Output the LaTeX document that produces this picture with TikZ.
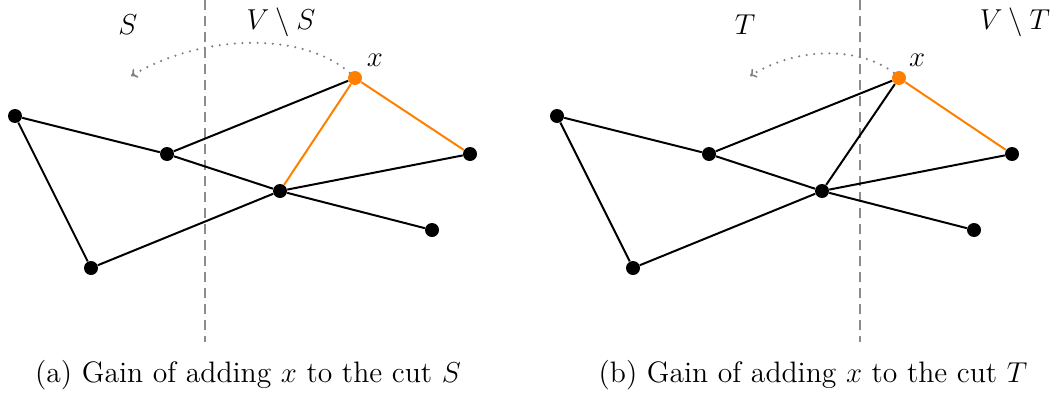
\documentclass[tikz,border=0pt]{standalone}
\usetikzlibrary{arrows.meta}
\definecolor{xorange}{RGB}{255,128,0}
\begin{document}
\begin{tikzpicture}[x=0.5pt,y=-0.5pt,
  vtx/.style={circle,fill=black,inner sep=0pt,minimum size=7pt},
  xvtx/.style={circle,fill=xorange,inner sep=0pt,minimum size=7pt},
  edge/.style={line width=1pt,black},
  oedge/.style={line width=1pt,xorange},
  cutline/.style={line width=0.8pt,gray!90,dash pattern=on 5pt off 3pt},
  move/.style={gray,line width=1.2pt,line cap=round,dash pattern=on 0pt off 3.8pt,-{To[length=3pt,width=5pt,line width=0.8pt]}},
  lbl/.style={font=\fontsize{15.5}{18}\selectfont},
  captxt/.style={font=\fontsize{14.8}{18}\selectfont}]
\useasboundingbox (0,0) rectangle (1059,396);
% ---------- panel (a)
\coordinate (cutAtop) at (205,0);
\coordinate (cutAbot) at (205,342);
\draw[cutline] (cutAtop) -- (cutAbot);
\node[lbl] (aS) at (128,25) {$S$};
\node[lbl] (aVS) at (281,22) {$V\setminus S$};
\node[vtx] (aA) at (15,116) {};
\node[vtx] (aB) at (167,154) {};
\node[vtx] (aC) at (91,268) {};
\node[vtx] (aD) at (280,191) {};
\node[xvtx] (aX) at (355,78) {};
\node[vtx] (aE) at (470,154) {};
\node[vtx] (aF) at (432,230) {};
\node[lbl] (aXl) at (375,60) {$x$};
\draw[edge] (aA) -- (aB);
\draw[edge] (aA) -- (aC);
\draw[edge] (aB) -- (aX);
\draw[edge] (aB) -- (aD);
\draw[edge] (aD) -- (aF);
\draw[edge] (aC) -- (aD);
\draw[edge] (aD) -- (aE);
\draw[oedge] (aD) -- (aX);
\draw[oedge] (aX) -- (aE);
\coordinate (aT) at (131,76);
\draw[move] (aX.north west) .. controls (300,30) and (200,35) .. (aT);
\node[captxt] (capA) at (248,375) {(a) Gain of adding $x$ to the cut $S$};
% ---------- panel (b)
\coordinate (cutBtop) at (860,0);
\coordinate (cutBbot) at (860,342);
\draw[cutline] (cutBtop) -- (cutBbot);
\node[lbl] (bT) at (745,25) {$T$};
\node[lbl] (bVT) at (1015,22) {$V\setminus T$};
\node[vtx] (bA) at (557,116) {};
\node[vtx] (bB) at (709,154) {};
\node[vtx] (bC) at (633,268) {};
\node[vtx] (bD) at (822,191) {};
\node[xvtx] (bX) at (899,78) {};
\node[vtx] (bE) at (1012,154) {};
\node[vtx] (bF) at (974,230) {};
\node[lbl] (bXl) at (917,60) {$x$};
\draw[edge] (bA) -- (bB);
\draw[edge] (bA) -- (bC);
\draw[edge] (bB) -- (bX);
\draw[edge] (bB) -- (bD);
\draw[edge] (bD) -- (bF);
\draw[edge] (bC) -- (bD);
\draw[edge] (bD) -- (bE);
\draw[edge] (bD) -- (bX);
\draw[oedge] (bX) -- (bE);
\coordinate (bT2) at (750,76);
\draw[move] (bX.north west) .. controls (862,48) and (800,45) .. (bT2);
\node[captxt] (capB) at (813,375) {(b) Gain of adding $x$ to the cut $T$};
\end{tikzpicture}
\end{document}
